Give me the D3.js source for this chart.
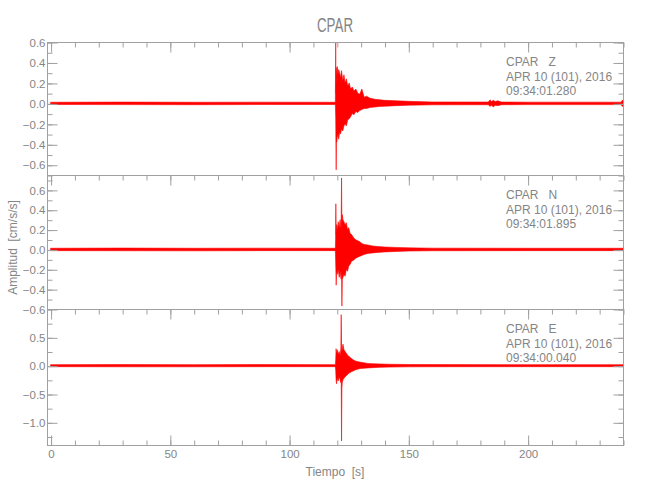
<!DOCTYPE html>
<html>
<head>
<meta charset="utf-8">
<script src="https://cdn.jsdelivr.net/npm/d3@7"></script>
<style>
  html, body { margin: 0; padding: 0; background: #ffffff; }
  svg { display: block; }
  text { font-family: "Liberation Sans", "DejaVu Sans", sans-serif; fill: #858585; }
</style>
</head>
<body>
<svg id="chart" width="650" height="500"></svg>
<script>
// ---------------- data ----------------
const title = "CPAR";
const xLabel = "Tiempo  [s]";
const yLabel = "Amplitud  [cm/s/s]";
const xDomain = [-1.5, 240];
const xMajorTicks = [0, 50, 100, 150, 200];
const xMinorTicks = [0,10,20,30,40,50,60,70,80,90,100,110,120,130,140,150,160,170,180,190,200,210,220,230,240];

const componentNames = ["Z", "N", "E"];
const annotationLines = [
  ["CPAR   Z", "APR 10 (101), 2016", "09:34:01.280"],
  ["CPAR   N", "APR 10 (101), 2016", "09:34:01.895"],
  ["CPAR   E", "APR 10 (101), 2016", "09:34:00.040"]
];

// Z component (envelope of trace: time [s], upper, lower) [cm/s/s]
const zTime = [0, 30, 60, 90, 119.4, 119.55, 119.65, 119.75, 119.85, 119.95, 120.2, 120.5, 120.8, 121.2, 121.6, 122.0, 122.5, 123.0, 123.5, 124.0, 124.6, 125.2, 125.8, 126.5, 127.2, 128.0, 128.8, 129.6, 130.5, 131.5, 132.5, 134, 136, 138, 140, 145, 150, 160, 183.5, 184.3, 184.8, 185.6, 186.4, 187.5, 189, 200, 239.2, 239.6, 240];
const zHigh = [0.011, 0.013, 0.011, 0.012, 0.011, 0.6, 0.1, 0.35, 0.32, 0.25, 0.36, 0.28, 0.33, 0.3, 0.25, 0.32, 0.22, 0.28, 0.2, 0.24, 0.17, 0.2, 0.14, 0.16, 0.12, 0.14, 0.1, 0.09, 0.14, 0.06, 0.07, 0.05, 0.04, 0.035, 0.03, 0.025, 0.02, 0.014, 0.013, 0.035, 0.015, 0.03, 0.018, 0.025, 0.013, 0.012, 0.012, 0.028, 0.028];
const zLow = [-0.011, -0.012, -0.013, -0.011, -0.011, -0.15, -0.42, -0.65, -0.3, -0.38, -0.33, -0.3, -0.35, -0.28, -0.3, -0.25, -0.27, -0.22, -0.2, -0.22, -0.16, -0.15, -0.13, -0.1, -0.11, -0.08, -0.09, -0.07, -0.06, -0.05, -0.05, -0.04, -0.035, -0.03, -0.028, -0.022, -0.018, -0.014, -0.013, -0.03, -0.016, -0.035, -0.018, -0.022, -0.013, -0.012, -0.012, -0.028, -0.028];

// N component
const nTime = [0, 30, 60, 90, 119.4, 119.5, 119.6, 119.75, 119.9, 120.2, 120.6, 121.0, 121.4, 121.8, 122.0, 122.15, 122.3, 122.6, 123.0, 123.5, 124.0, 124.5, 125.0, 125.6, 126.2, 127.0, 127.8, 128.6, 129.5, 130.5, 131.5, 133, 135, 137, 140, 145, 150, 160, 200, 240];
const nHigh = [0.012, 0.014, 0.012, 0.013, 0.012, 0.1, 0.46, 0.15, 0.25, 0.2, 0.28, 0.22, 0.3, 0.2, 0.72, 0.25, 0.35, 0.3, 0.28, 0.25, 0.27, 0.2, 0.22, 0.16, 0.15, 0.12, 0.1, 0.09, 0.08, 0.06, 0.05, 0.045, 0.035, 0.03, 0.025, 0.02, 0.016, 0.013, 0.012, 0.012];
const nLow = [-0.012, -0.013, -0.014, -0.012, -0.012, -0.1, -0.2, -0.36, -0.22, -0.25, -0.2, -0.28, -0.22, -0.3, -0.2, -0.57, -0.3, -0.28, -0.25, -0.27, -0.2, -0.22, -0.17, -0.15, -0.12, -0.11, -0.09, -0.08, -0.07, -0.06, -0.05, -0.04, -0.035, -0.03, -0.025, -0.02, -0.016, -0.013, -0.012, -0.012];

// E component
const eTime = [0, 30, 60, 90, 119.4, 119.55, 119.7, 119.9, 120.2, 120.6, 121.0, 121.4, 121.7, 121.85, 122.0, 122.15, 122.3, 122.6, 123.0, 123.5, 124.0, 124.6, 125.2, 126.0, 127.0, 128.0, 129.0, 130.0, 131.5, 133, 135, 138, 142, 150, 160, 200, 240];
const eHigh = [0.018, 0.02, 0.018, 0.02, 0.018, 0.1, 0.3, 0.22, 0.28, 0.2, 0.25, 0.18, 0.3, 0.9, 0.35, 0.25, 0.3, 0.38, 0.28, 0.25, 0.22, 0.18, 0.16, 0.13, 0.1, 0.08, 0.07, 0.06, 0.05, 0.04, 0.035, 0.03, 0.025, 0.021, 0.019, 0.018, 0.018];
const eLow = [-0.018, -0.02, -0.02, -0.018, -0.018, -0.08, -0.25, -0.32, -0.22, -0.27, -0.2, -0.25, -0.3, -0.25, -1.33, -0.4, -0.3, -0.25, -0.22, -0.2, -0.18, -0.15, -0.13, -0.11, -0.09, -0.07, -0.06, -0.05, -0.045, -0.04, -0.035, -0.03, -0.025, -0.021, -0.019, -0.018, -0.018];

// y axes per panel
const zYDomain = [-0.7, 0.6];
const zYMajor = [-0.6, -0.4, -0.2, 0.0, 0.2, 0.4, 0.6];
const zYMinor = [-0.7, -0.6, -0.5, -0.4, -0.3, -0.2, -0.1, 0.0, 0.1, 0.2, 0.3, 0.4, 0.5, 0.6];
const nYDomain = [-0.6, 0.75];
const nYMajor = [-0.6, -0.4, -0.2, 0.0, 0.2, 0.4, 0.6];
const nYMinor = [-0.6, -0.5, -0.4, -0.3, -0.2, -0.1, 0.0, 0.1, 0.2, 0.3, 0.4, 0.5, 0.6, 0.7];
const eYDomain = [-1.4, 1.0];
const eYMajor = [-1.0, -0.5, 0.0, 0.5];
const eYMinor = [-1.25, -1.0, -0.75, -0.5, -0.25, 0.0, 0.25, 0.5, 0.75];

// ---------------- layout / style ----------------
const left = 47, right = 623;
const panelTops = [42, 175, 309];
const panelBottoms = [175, 309, 445];
const axisColor = "#a0a0a0";
const textColor = "#858585";
const traceColor = "#ff0000";

const svg = d3.select("#chart");
const x = d3.scaleLinear().domain(xDomain).range([left, right]);

const traces = [
  { t: zTime, hi: zHigh, lo: zLow, dom: zYDomain, major: zYMajor, minor: zYMinor },
  { t: nTime, hi: nHigh, lo: nLow, dom: nYDomain, major: nYMajor, minor: nYMinor },
  { t: eTime, hi: eHigh, lo: eLow, dom: eYDomain, major: eYMajor, minor: eYMinor }
];

const fmt = d3.format(".1f");

function styleAxis(g) {
  g.select(".domain").remove();
  g.selectAll("line").attr("stroke", axisColor).attr("stroke-width", 1);
  g.selectAll("text").attr("fill", textColor).style("font-size", "11.5px")
    .style("font-family", "'Liberation Sans', 'DejaVu Sans', sans-serif");
}

traces.forEach((tr, k) => {
  const top = panelTops[k], bottom = panelBottoms[k];
  const y = d3.scaleLinear().domain(tr.dom).range([bottom, top]);

  svg.append("clipPath").attr("id", "clip" + k)
    .append("rect").attr("x", left).attr("y", top).attr("width", right - left).attr("height", bottom - top);

  const idx = d3.range(tr.t.length);
  const area = d3.area()
    .x(i => x(tr.t[i]))
    .y0(i => y(tr.lo[i]))
    .y1(i => y(tr.hi[i]));
  svg.append("path")
    .attr("clip-path", `url(#clip${k})`)
    .attr("d", area(idx))
    .attr("fill", traceColor)
    .attr("stroke", traceColor)
    .attr("stroke-width", 0.6)
    .attr("stroke-linejoin", "round");

  svg.append("rect")
    .attr("x", left + 0.5).attr("y", top + 0.5)
    .attr("width", right - left).attr("height", bottom - top)
    .attr("fill", "none").attr("stroke", axisColor).attr("stroke-width", 1);

  svg.append("g").attr("transform", `translate(${left + 0.5},0.5)`)
    .call(d3.axisLeft(y).tickValues(tr.major).tickSize(-10).tickPadding(2).tickFormat(fmt))
    .call(styleAxis);
  svg.append("g").attr("transform", `translate(${left + 0.5},0.5)`)
    .call(d3.axisLeft(y).tickValues(tr.minor).tickSize(-5).tickFormat(""))
    .call(styleAxis);
  svg.append("g").attr("transform", `translate(${right + 0.5},0.5)`)
    .call(d3.axisRight(y).tickValues(tr.major).tickSize(-10).tickFormat(""))
    .call(styleAxis);
  svg.append("g").attr("transform", `translate(${right + 0.5},0.5)`)
    .call(d3.axisRight(y).tickValues(tr.minor).tickSize(-5).tickFormat(""))
    .call(styleAxis);

  svg.append("g").attr("transform", `translate(0.5,${top + 0.5})`)
    .call(d3.axisTop(x).tickValues(xMajorTicks).tickSize(-10).tickFormat(""))
    .call(styleAxis);
  svg.append("g").attr("transform", `translate(0.5,${top + 0.5})`)
    .call(d3.axisTop(x).tickValues(xMinorTicks).tickSize(-5).tickFormat(""))
    .call(styleAxis);

  const ann = svg.append("text").attr("x", 506).attr("y", top + 24)
    .style("font-size", "12px").attr("fill", textColor);
  annotationLines[k].forEach((s, j) => {
    ann.append("tspan").attr("x", 506).attr("y", top + 24 + j * 14.5)
      .style("white-space", "pre").text(s);
  });
});

const lastBottom = panelBottoms[panelBottoms.length - 1];
svg.append("g").attr("transform", `translate(0.5,${lastBottom + 0.5})`)
  .call(d3.axisBottom(x).tickValues(xMajorTicks).tickSize(-10).tickPadding(4).tickFormat(d3.format("d")))
  .call(styleAxis);
svg.append("g").attr("transform", `translate(0.5,${lastBottom + 0.5})`)
  .call(d3.axisBottom(x).tickValues(xMinorTicks).tickSize(-5).tickFormat(""))
  .call(styleAxis);

svg.append("text").attr("x", (left + right) / 2).attr("y", 32)
  .attr("text-anchor", "middle").style("font-size", "20px")
  .attr("textLength", 36).attr("lengthAdjust", "spacingAndGlyphs")
  .attr("fill", textColor).text(title);

svg.append("text").attr("x", (left + right) / 2).attr("y", 476)
  .attr("text-anchor", "middle").style("font-size", "12px")
  .style("white-space", "pre")
  .attr("fill", textColor).text(xLabel);

svg.append("text")
  .attr("transform", `translate(17,${(panelTops[0] + lastBottom) / 2 + 4}) rotate(-90)`)
  .attr("text-anchor", "middle").style("font-size", "12px")
  .style("white-space", "pre")
  .attr("fill", textColor).text(yLabel);
</script>
</body>
</html>
